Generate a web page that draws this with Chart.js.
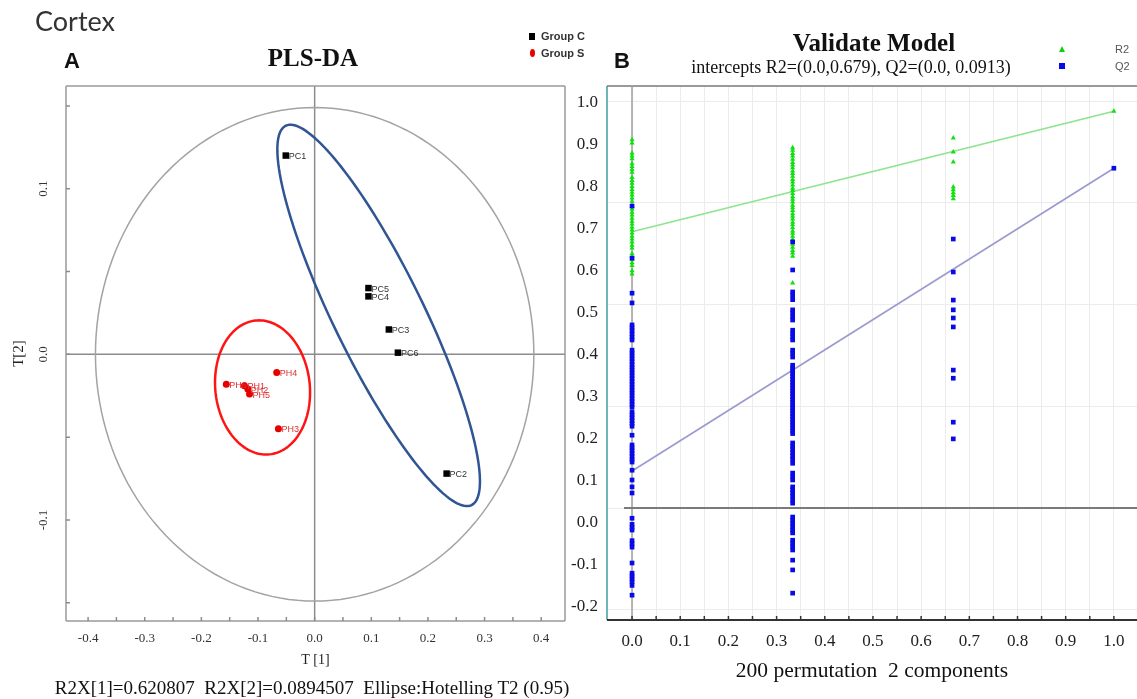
<!DOCTYPE html>
<html>
<head>
<meta charset="utf-8">
<title>Cortex - PLS-DA and permutation test</title>
<script src="https://cdn.jsdelivr.net/npm/chart.js@4.4.1/dist/chart.umd.min.js"></script>
<style>
  html, body { margin: 0; padding: 0; background: #fff; }
  #page { position: relative; width: 1137px; height: 699px; overflow: hidden; }
  #page canvas { position: absolute; top: 0; }
  .t { position: absolute; white-space: pre; line-height: 1; }
  .serif { font-family: 'Liberation Serif', 'Times New Roman', serif; }
  .sans { font-family: 'Liberation Sans', Arial, sans-serif; }
  .mid { transform: translateX(-50%); }
  .mk { position: absolute; }
</style>
</head>
<body>
<div id="page">
  <canvas id="plsda" width="570" height="699" style="left:0"></canvas>
  <canvas id="validate" width="571" height="699" style="left:570px"></canvas>

  <div class="t" style="left:35px;top:4px;font:27px Lato, 'Open Sans', sans-serif;color:#333">Cortex</div>

  <!-- panel A header -->
  <div class="t sans" style="left:64px;top:50px;font-size:22px;font-weight:bold;color:#111">A</div>
  <div class="t serif mid" style="left:313px;top:45px;font-size:25px;font-weight:bold;color:#111">PLS-DA</div>
  <div class="mk" style="left:529px;top:33px;width:6px;height:7px;background:#000"></div>
  <div class="t sans" style="left:541px;top:31px;font-size:11px;font-weight:bold;color:#333">Group C</div>
  <div class="mk" style="left:530px;top:49px;width:5px;height:8px;border-radius:50%;background:#e00"></div>
  <div class="t sans" style="left:541px;top:48px;font-size:11px;font-weight:bold;color:#333">Group S</div>
  <div class="t serif mid" style="left:312px;top:678px;font-size:19px;color:#111">R2X[1]=0.620807  R2X[2]=0.0894507  Ellipse:Hotelling T2 (0.95)</div>

  <!-- panel B header -->
  <div class="t sans" style="left:614px;top:50px;font-size:22px;font-weight:bold;color:#111">B</div>
  <div class="t serif mid" style="left:874px;top:30px;font-size:25px;font-weight:bold;color:#111">Validate Model</div>
  <div class="t serif mid" style="left:851px;top:58px;font-size:18px;color:#111">intercepts R2=(0.0,0.679), Q2=(0.0, 0.0913)</div>
  <div class="mk" style="left:1059px;top:46px;width:0;height:0;border-left:3px solid transparent;border-right:3px solid transparent;border-bottom:6px solid #10d010"></div>
  <div class="t sans" style="left:1115px;top:44px;font-size:11px;color:#555">R2</div>
  <div class="mk" style="left:1059px;top:63px;width:6px;height:6px;background:#0a0ae6"></div>
  <div class="t sans" style="left:1115px;top:61px;font-size:11px;color:#555">Q2</div>
</div>

<script>
'use strict';

// ---- Panel A: PLS-DA score plot (T[1] vs T[2]) ----
const groupCNames = ['PC1', 'PC2', 'PC3', 'PC4', 'PC5', 'PC6'];
const groupCT1 = [-0.051, 0.233, 0.131, 0.095, 0.095, 0.147];
const groupCT2 = [0.120, -0.072, 0.015, 0.035, 0.040, 0.001];
const groupSNames = ['PH1', 'PH2', 'PH3', 'PH4', 'PH5', 'PH6'];
const groupST1 = [-0.124, -0.118, -0.064, -0.067, -0.115, -0.156];
const groupST2 = [-0.019, -0.021, -0.045, -0.011, -0.024, -0.018];

// ellipses as [centre, semi-axis u, semi-axis v] in score units
const ellipseT2 = [[0, 0], [0.387, 0], [0, 0.149]];
const ellipseC = [[0.113, 0.0235], [-0.164, 0.1145], [0.0714, 0.0119]];
const ellipseS = [[-0.092, -0.020], [-0.0124, 0.0404], [0.083, 0.003]];

const t1Ticks = [-0.4, -0.35, -0.3, -0.25, -0.2, -0.15, -0.1, -0.05, 0, 0.05, 0.1, 0.15, 0.2, 0.25, 0.3, 0.35, 0.4];
const t1Labels = ['-0.4', '', '-0.3', '', '-0.2', '', '-0.1', '', '0.0', '', '0.1', '', '0.2', '', '0.3', '', '0.4'];
const t2Ticks = [-0.15, -0.1, -0.05, 0, 0.05, 0.1, 0.15];
const t2Labels = ['', '-0.1', '', '0.0', '', '0.1', ''];

// ---- Panel B: permutation test (200 permutations, 2 components) ----
const permX = [0, 0.3333, 0.6667, 1];
const r2At0 = [0.905, 0.897, 0.872, 0.865, 0.858, 0.846, 0.839, 0.832, 0.825, 0.812, 0.805, 0.798, 0.79, 0.783,
  0.776, 0.769, 0.762, 0.754, 0.741, 0.734, 0.727, 0.72, 0.712, 0.705, 0.698, 0.69, 0.683, 0.676, 0.668, 0.661,
  0.654, 0.646, 0.639, 0.625, 0.618, 0.611, 0.603, 0.596, 0.583, 0.575];
const q2At0 = [0.742, 0.614, 0.528, 0.504, 0.45, 0.443, 0.436, 0.428, 0.42, 0.413, 0.388, 0.381, 0.374, 0.367,
  0.36, 0.353, 0.346, 0.339, 0.332, 0.325, 0.318, 0.311, 0.304, 0.297, 0.29, 0.283, 0.276, 0.269, 0.262, 0.255,
  0.248, 0.236, 0.229, 0.222, 0.215, 0.208, 0.201, 0.179, 0.155, 0.148, 0.141, 0.134, 0.127, 0.12, 0.113, 0.093,
  0.069, 0.052, 0.037, -0.025, -0.04, -0.047, -0.054, -0.08, -0.088, -0.096, -0.135, -0.16, -0.167, -0.174,
  -0.181, -0.19, -0.214];
const r2At1 = [0.885, 0.879, 0.871, 0.865, 0.857, 0.849, 0.843, 0.836, 0.828, 0.822, 0.815, 0.807, 0.801, 0.794,
  0.786, 0.78, 0.773, 0.765, 0.759, 0.752, 0.744, 0.738, 0.731, 0.723, 0.717, 0.71, 0.702, 0.696, 0.689, 0.681,
  0.675, 0.668, 0.66, 0.648, 0.641, 0.633, 0.627, 0.619, 0.553];
const q2At1 = [0.654, 0.585, 0.531, 0.522, 0.512, 0.487, 0.479, 0.47, 0.462, 0.437, 0.429, 0.421, 0.413, 0.388,
  0.38, 0.371, 0.351, 0.344, 0.337, 0.33, 0.323, 0.316, 0.309, 0.302, 0.295, 0.288, 0.281, 0.274, 0.267, 0.26,
  0.253, 0.246, 0.239, 0.232, 0.225, 0.218, 0.211, 0.204, 0.197, 0.19, 0.183, 0.16, 0.152, 0.144, 0.136, 0.128,
  0.12, 0.11, 0.086, 0.077, 0.069, 0.052, 0.045, 0.037, 0.029, 0.02, 0.012, -0.022, -0.03, -0.038, -0.046,
  -0.054, -0.061, -0.079, -0.087, -0.095, -0.103, -0.128, -0.152, -0.209];
const r2At2 = [0.909, 0.875, 0.850, 0.789, 0.782, 0.775, 0.768, 0.76];
const q2At2 = [0.661, 0.580, 0.511, 0.487, 0.467, 0.445, 0.339, 0.319, 0.211, 0.170];
const r2At3 = [0.975];
const q2At3 = [0.835];

// regression lines through the permuted models
const fitX = [0, 1];
const r2Fit = [0.679, 0.975];
const q2Fit = [0.0913, 0.835];

const permTicks = [0, 0.05, 0.1, 0.15, 0.2, 0.25, 0.3, 0.35, 0.4, 0.45, 0.5, 0.55, 0.6, 0.65, 0.7, 0.75, 0.8, 0.85, 0.9, 0.95, 1.0];
const permLabels = ['0.0', '', '0.1', '', '0.2', '', '0.3', '', '0.4', '', '0.5', '', '0.6', '', '0.7', '', '0.8', '', '0.9', '', '1.0'];
const scoreTicks = [-0.2, -0.1, 0, 0.1, 0.2, 0.3, 0.4, 0.5, 0.6, 0.7, 0.8, 0.9, 1.0];
const scoreLabels = ['-0.2', '-0.1', '0.0', '0.1', '0.2', '0.3', '0.4', '0.5', '0.6', '0.7', '0.8', '0.9', '1.0'];
const scoreGridTicks = [-0.25, 0, 0.25, 0.5, 0.75, 1.0];

const SERIF = "'Liberation Serif', 'Times New Roman', serif";
Chart.defaults.font.family = SERIF;
Chart.defaults.color = '#222';

function pairs(xs, ys) {
  return xs.map((x, i) => ({ x, y: ys[i] }));
}

function columns(cols) {
  const out = [];
  cols.forEach((ys, k) => ys.forEach(y => out.push({ x: permX[k], y })));
  return out;
}

function useTicks(values) {
  return scale => { scale.ticks = values.map(v => ({ value: v })); };
}

// Frame lines round the plot area
function framePlugin(sides) {
  return {
    id: 'frame',
    afterDatasetsDraw(chart) {
      const { ctx, chartArea: a } = chart;
      const seg = {
        top: [a.left, a.top, a.right, a.top],
        bottom: [a.left, a.bottom, a.right, a.bottom],
        left: [a.left, a.top, a.left, a.bottom],
        right: [a.right, a.top, a.right, a.bottom]
      };
      ctx.save();
      Object.keys(sides).forEach(k => {
        const s = seg[k];
        ctx.strokeStyle = sides[k][0];
        ctx.lineWidth = sides[k][1];
        ctx.beginPath();
        ctx.moveTo(s[0], s[1]);
        ctx.lineTo(s[2], s[3]);
        ctx.stroke();
      });
      ctx.restore();
    }
  };
}

// Short tick marks pointing into the plot
function innerTicksPlugin(ids, len, color) {
  return {
    id: 'innerTicks',
    afterDatasetsDraw(chart) {
      const { ctx, chartArea: a } = chart;
      ctx.save();
      ctx.strokeStyle = color;
      ctx.lineWidth = 1.5;
      ctx.beginPath();
      ids.forEach(id => {
        const s = chart.scales[id];
        s.ticks.forEach(t => {
          const p = s.getPixelForValue(t.value);
          if (s.isHorizontal()) {
            ctx.moveTo(p, a.bottom);
            ctx.lineTo(p, a.bottom - len);
          } else {
            ctx.moveTo(a.left, p);
            ctx.lineTo(a.left + len, p);
          }
        });
      });
      ctx.stroke();
      ctx.restore();
    }
  };
}

// Zero lines on both axes
function zeroLinesPlugin(o) {
  return {
    id: 'zeroLines',
    beforeDatasetsDraw(chart) {
      const { ctx, chartArea: a, scales } = chart;
      ctx.save();
      const px = scales.x.getPixelForValue(0);
      ctx.strokeStyle = o.vColor;
      ctx.lineWidth = o.vWidth;
      ctx.beginPath();
      ctx.moveTo(px, a.top);
      ctx.lineTo(px, a.bottom);
      ctx.stroke();
      const py = scales.y.getPixelForValue(0);
      ctx.strokeStyle = o.hColor;
      ctx.lineWidth = o.hWidth;
      ctx.beginPath();
      ctx.moveTo(a.left + o.hInset, py);
      ctx.lineTo(a.right, py);
      ctx.stroke();
      ctx.restore();
    }
  };
}

// Ellipses drawn through the chart scales
function ellipsePlugin(items) {
  return {
    id: 'ellipses',
    beforeDatasetsDraw(chart) {
      const { ctx, scales: { x, y } } = chart;
      ctx.save();
      items.forEach(([shape, color, width]) => {
        const [c, u, v] = shape;
        ctx.beginPath();
        for (let k = 0; k <= 160; k++) {
          const t = k / 160 * Math.PI * 2;
          const px = x.getPixelForValue(c[0] + u[0] * Math.cos(t) + v[0] * Math.sin(t));
          const py = y.getPixelForValue(c[1] + u[1] * Math.cos(t) + v[1] * Math.sin(t));
          if (k === 0) ctx.moveTo(px, py); else ctx.lineTo(px, py);
        }
        ctx.closePath();
        ctx.strokeStyle = color;
        ctx.lineWidth = width;
        ctx.stroke();
      });
      ctx.restore();
    }
  };
}

// Sample names next to the score points
function pointNamesPlugin(names, colors) {
  return {
    id: 'pointNames',
    afterDatasetsDraw(chart) {
      const { ctx } = chart;
      ctx.save();
      ctx.font = "9px 'Liberation Sans', Arial, sans-serif";
      ctx.textBaseline = 'middle';
      names.forEach((list, i) => {
        ctx.fillStyle = colors[i];
        chart.getDatasetMeta(i).data.forEach((el, j) => {
          ctx.fillText(list[j], el.x + 3, el.y + 1);
        });
      });
      ctx.restore();
    }
  };
}

// Panel A
new Chart(document.getElementById('plsda'), {
  type: 'scatter',
  data: {
    datasets: [
      {
        label: 'Group C',
        data: pairs(groupCT1, groupCT2),
        pointStyle: 'rect',
        pointRadius: 4.6,
        backgroundColor: '#000',
        borderWidth: 0
      },
      {
        label: 'Group S',
        data: pairs(groupST1, groupST2),
        pointStyle: 'circle',
        pointRadius: 3.5,
        backgroundColor: '#e60000',
        borderWidth: 0
      }
    ]
  },
  options: {
    responsive: false,
    animation: false,
    layout: { padding: { top: 86, right: 5, left: 0, bottom: 0 } },
    plugins: { legend: { display: false }, tooltip: { enabled: false } },
    scales: {
      x: {
        type: 'linear',
        min: -0.439,
        max: 0.442,
        afterBuildTicks: useTicks(t1Ticks),
        afterFit: s => { s.height = 78; },
        grid: { display: false, drawTicks: false },
        border: { display: false },
        ticks: {
          autoSkip: false,
          maxRotation: 0,
          padding: 10,
          color: '#333',
          font: { size: 13 },
          callback: (v, i) => t1Labels[i]
        },
        title: { display: true, text: 'T [1]', color: '#222', font: { size: 14 }, padding: { top: 0, bottom: 30 } }
      },
      y: {
        type: 'linear',
        min: -0.161,
        max: 0.162,
        afterBuildTicks: useTicks(t2Ticks),
        afterFit: s => { s.width = 66; },
        grid: { display: false, drawTicks: false },
        border: { display: false },
        ticks: {
          autoSkip: false,
          minRotation: 90,
          maxRotation: 90,
          crossAlign: 'center',
          padding: 12,
          color: '#333',
          font: { size: 13 },
          callback: (v, i) => t2Labels[i]
        },
        title: { display: true, text: 'T[2]', color: '#222', font: { size: 15 }, padding: { top: 10, bottom: 0 } }
      }
    }
  },
  plugins: [
    zeroLinesPlugin({ vColor: '#8c8c8c', vWidth: 1.5, hColor: '#8c8c8c', hWidth: 1.5, hInset: 0 }),
    ellipsePlugin([
      [ellipseT2, '#a3a3a3', 1.5],
      [ellipseC, '#2f5594', 2.5],
      [ellipseS, '#ff1414', 2.5]
    ]),
    pointNamesPlugin([groupCNames, groupSNames], ['#333', '#e23030']),
    framePlugin({ top: ['#9a9a9a', 1.5], bottom: ['#9a9a9a', 1.5], left: ['#9a9a9a', 1.5], right: ['#9a9a9a', 1.5] }),
    innerTicksPlugin(['x', 'y'], 4, '#8c8c8c')
  ]
});

// Panel B: data sit on the hidden 'y' scale, 'yL' only carries the printed labels
new Chart(document.getElementById('validate'), {
  type: 'scatter',
  data: {
    datasets: [
      {
        label: 'Q2',
        data: columns([q2At0, q2At1, q2At2, q2At3]),
        yAxisID: 'y',
        pointStyle: 'rect',
        pointRadius: 3.3,
        backgroundColor: '#0a0ae6',
        borderWidth: 0,
        order: 1
      },
      {
        label: 'R2',
        data: columns([r2At0, r2At1, r2At2, r2At3]),
        yAxisID: 'y',
        pointStyle: 'triangle',
        pointRadius: 3,
        backgroundColor: '#12e012',
        borderWidth: 0,
        order: 2
      },
      {
        label: 'R2 fit',
        data: pairs(fitX, r2Fit),
        yAxisID: 'y',
        showLine: true,
        borderColor: '#8fe38f',
        borderWidth: 1.7,
        pointRadius: 0,
        order: 3
      },
      {
        label: 'Q2 fit',
        data: pairs(fitX, q2Fit),
        yAxisID: 'y',
        showLine: true,
        borderColor: '#9b9bcf',
        borderWidth: 1.7,
        pointRadius: 0,
        order: 3
      }
    ]
  },
  options: {
    responsive: false,
    animation: false,
    layout: { padding: { top: 86, right: 0, left: 0, bottom: 0 } },
    plugins: { legend: { display: false }, tooltip: { enabled: false } },
    scales: {
      x: {
        type: 'linear',
        min: -0.052,
        max: 1.048,
        afterBuildTicks: useTicks(permTicks),
        afterFit: s => { s.height = 79; },
        grid: { color: '#ececec', lineWidth: 1, drawTicks: false },
        border: { display: false },
        ticks: {
          autoSkip: false,
          maxRotation: 0,
          padding: 11,
          color: '#222',
          font: { size: 17 },
          callback: (v, i) => permLabels[i]
        },
        title: {
          display: true,
          text: '200 permutation  2 components',
          color: '#111',
          font: { size: 21.5 },
          padding: { top: 0, bottom: 15 }
        }
      },
      yL: {
        type: 'linear',
        axis: 'y',
        position: 'left',
        min: -0.231,
        max: 1.0405,
        afterBuildTicks: useTicks(scoreTicks),
        afterFit: s => { s.width = 37; },
        grid: { display: false, drawTicks: false },
        border: { display: false },
        ticks: {
          autoSkip: false,
          padding: 9,
          color: '#222',
          font: { size: 17 },
          callback: (v, i) => scoreLabels[i]
        }
      },
      y: {
        type: 'linear',
        position: 'right',
        min: -0.275,
        max: 1.037,
        afterBuildTicks: useTicks(scoreGridTicks),
        afterFit: s => { s.width = 0; },
        grid: { color: '#ececec', lineWidth: 1, drawTicks: false },
        border: { display: false },
        ticks: { display: false }
      }
    }
  },
  plugins: [
    zeroLinesPlugin({ vColor: '#b4b4b4', vWidth: 2, hColor: '#7a7a7a', hWidth: 2, hInset: 17 }),
    framePlugin({ top: ['#9a9a9a', 2], left: ['#3f9d9d', 1.5], bottom: ['#333', 2] }),
    innerTicksPlugin(['x'], 4, '#333')
  ]
});
</script>
</body>
</html>
